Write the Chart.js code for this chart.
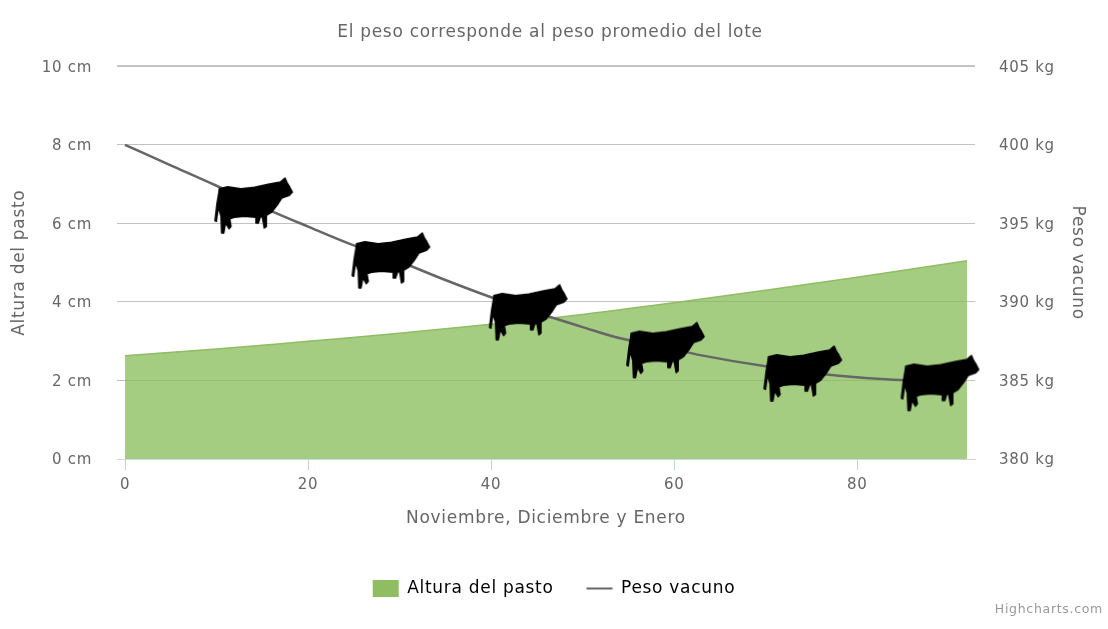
<!DOCTYPE html>
<html>
<head>
<meta charset="utf-8">
<script src="https://cdn.jsdelivr.net/npm/chart.js@4"></script>
<style>
html,body{margin:0;padding:0;background:#fff;width:1108px;height:629px;overflow:hidden}
canvas{display:block;filter:blur(0.4px)}
</style>
</head>
<body>
<canvas id="c" width="1108" height="629"></canvas>
<script>
const titleText = "El peso corresponde al peso promedio del lote";
const xTitle = "Noviembre, Diciembre y Enero";
const leftTitle = "Altura del pasto";
const rightTitle = "Peso vacuno";
const creditText = "Highcharts.com";
const xTickValues = [0, 20, 40, 60, 80];
const pastoDays = [0, 10, 20, 30, 40, 50, 60, 70, 80, 92];
const pastoCm = [2.63, 2.8, 3.0, 3.2, 3.43, 3.68, 3.98, 4.3, 4.63, 5.05];
const pesoDays = [0, 5, 10, 14, 20, 25, 29, 35, 40, 44, 50, 54, 59, 63, 70, 74, 78, 84, 89];
const pesoKg = [400, 398.7, 397.4, 396.3, 394.8, 393.6, 392.8, 391.4, 390.3, 389.5, 388.4, 387.7, 387.1, 386.6, 385.9, 385.6, 385.3, 385.05, 385];
const cowDays = [14, 29, 44, 59, 74, 89];

const FONT = '"DejaVu Sans", sans-serif';

function makeCow() {
  const cv = document.createElement('canvas');
  cv.width = 86; cv.height = 64;
  const g = cv.getContext('2d');
  g.filter = 'blur(0.7px)';
  const outline = [[35,50],[60,44],[100,50],[140,46],[185,36],[218,30],[232,18],[238,32],[246,45],[254,60],[245,70],[222,78],[208,100],[192,120],[176,130],[176,163],[170,168],[164,134],[158,134],[152,153],[145,153],[145,136],[110,133],[80,136],[66,140],[70,163],[64,170],[54,152],[48,183],[42,183],[40,132],[32,104],[26,148],[22,146],[28,95],[34,60]];
  g.fillStyle = '#000';
  g.strokeStyle = '#000';
  g.lineWidth = 1.5;
  g.lineJoin = 'round';
  g.beginPath();
  outline.forEach((p, i) => {
    const x = (p[0] - 136.5) / 3 + 43, y = (p[1] - 99) / 3 + 34;
    if (i) g.lineTo(x, y); else g.moveTo(x, y);
  });
  g.closePath();
  g.fill();
  g.stroke();
  return cv;
}
const cow = makeCow();

const SPACING = '0.7px';
const creditPlugin = {
  id: 'credit',
  beforeInit(chart) { chart.ctx.letterSpacing = SPACING; },
  beforeLayout(chart) { chart.ctx.letterSpacing = SPACING; },
  afterLayout(chart) { chart.titleBlock.right -= 8; },
  beforeDraw(chart) { chart.ctx.letterSpacing = SPACING; },
  afterDraw(chart) {
    const g = chart.ctx;
    g.save();
    g.font = '12.5px ' + FONT;
    g.fillStyle = '#999';
    g.textAlign = 'right';
    g.textBaseline = 'middle';
    g.fillText(creditText, 1103, 610);
    g.restore();
  }
};

new Chart(document.getElementById('c'), {
  type: 'line',
  plugins: [creditPlugin],
  data: {
    datasets: [
      {
        label: leftTitle,
        data: pastoDays.map((d, i) => ({ x: d, y: pastoCm[i] })),
        yAxisID: 'y',
        order: 2,
        fill: 'origin',
        backgroundColor: 'rgba(134,188,86,0.74)',
        borderColor: '#90bc62',
        borderWidth: 1.5,
        pointRadius: 0,
        cubicInterpolationMode: 'monotone'
      },
      {
        label: rightTitle,
        data: pesoDays.map((d, i) => ({ x: d, y: pesoKg[i] })),
        yAxisID: 'y2',
        order: 1,
        fill: false,
        clip: false,
        borderColor: '#666',
        borderWidth: 2.5,
        cubicInterpolationMode: 'monotone',
        pointStyle: c => cowDays.includes(c.raw.x) ? cow : 'circle',
        pointRadius: c => cowDays.includes(c.raw.x) ? 4 : 0,
        pointHoverRadius: 0
      }
    ]
  },
  options: {
    responsive: false,
    animation: false,
    layout: { padding: { left: 0, right: 0, top: 0, bottom: 22 } },
    plugins: {
      tooltip: { enabled: false },
      title: {
        display: true,
        text: titleText,
        color: '#666',
        font: { family: FONT, size: 17, weight: 'normal' },
        padding: { top: 22, bottom: 24 }
      },
      legend: {
        display: true,
        position: 'bottom',
        onClick: null,
        labels: {
          usePointStyle: true,
          pointStyleWidth: 26,
          boxHeight: 19,
          padding: 33,
          color: '#333',
          font: { family: FONT, size: 17 },
          generateLabels: () => [
            { text: leftTitle, fillStyle: '#90bc62', strokeStyle: '#90bc62', lineWidth: 0, pointStyle: 'rect', datasetIndex: 0 },
            { text: rightTitle, fillStyle: '#666', strokeStyle: '#666', lineWidth: 2, pointStyle: 'line', datasetIndex: 1 }
          ]
        }
      }
    },
    scales: {
      x: {
        type: 'linear',
        min: -0.875,
        max: 92.875,
        afterBuildTicks: s => { s.ticks = xTickValues.map(v => ({ value: v })); },
        afterFit: s => { s.height = 88; },
        grid: { drawOnChartArea: false, drawTicks: true, tickLength: 11, tickColor: '#c0d0e0' },
        border: { display: true, color: '#ccd6e6', width: 1 },
        ticks: { color: '#666', font: { family: FONT, size: 15 }, padding: 6, maxRotation: 0 },
        title: { display: true, text: xTitle, color: '#666', font: { family: FONT, size: 17 }, padding: { top: 8, bottom: 18 } }
      },
      y: {
        position: 'left',
        min: 0,
        max: 10,
        afterFit: s => { s.width = 117; },
        grid: { color: '#c2c2c2', lineWidth: c => c.tick && c.tick.value === 10 ? 2 : 1, drawTicks: false },
        border: { display: false },
        ticks: { stepSize: 2, color: '#666', padding: 25, labelOffset: 1.5, font: { family: FONT, size: 15 }, callback: v => v + ' cm' },
        title: { display: true, text: leftTitle, color: '#666', font: { family: FONT, size: 17 }, padding: { top: 9, bottom: 0 } }
      },
      y2: {
        position: 'right',
        min: 380,
        max: 405,
        afterFit: s => { s.width = 133; },
        grid: { display: false, drawTicks: false },
        border: { display: false },
        ticks: { stepSize: 5, color: '#666', padding: 24, labelOffset: 1.5, font: { family: FONT, size: 15 }, callback: v => v + ' kg' },
        title: { display: true, text: rightTitle, color: '#666', font: { family: FONT, size: 17 }, padding: { top: 20, bottom: 0 } }
      }
    }
  }
});
</script>
</body>
</html>
